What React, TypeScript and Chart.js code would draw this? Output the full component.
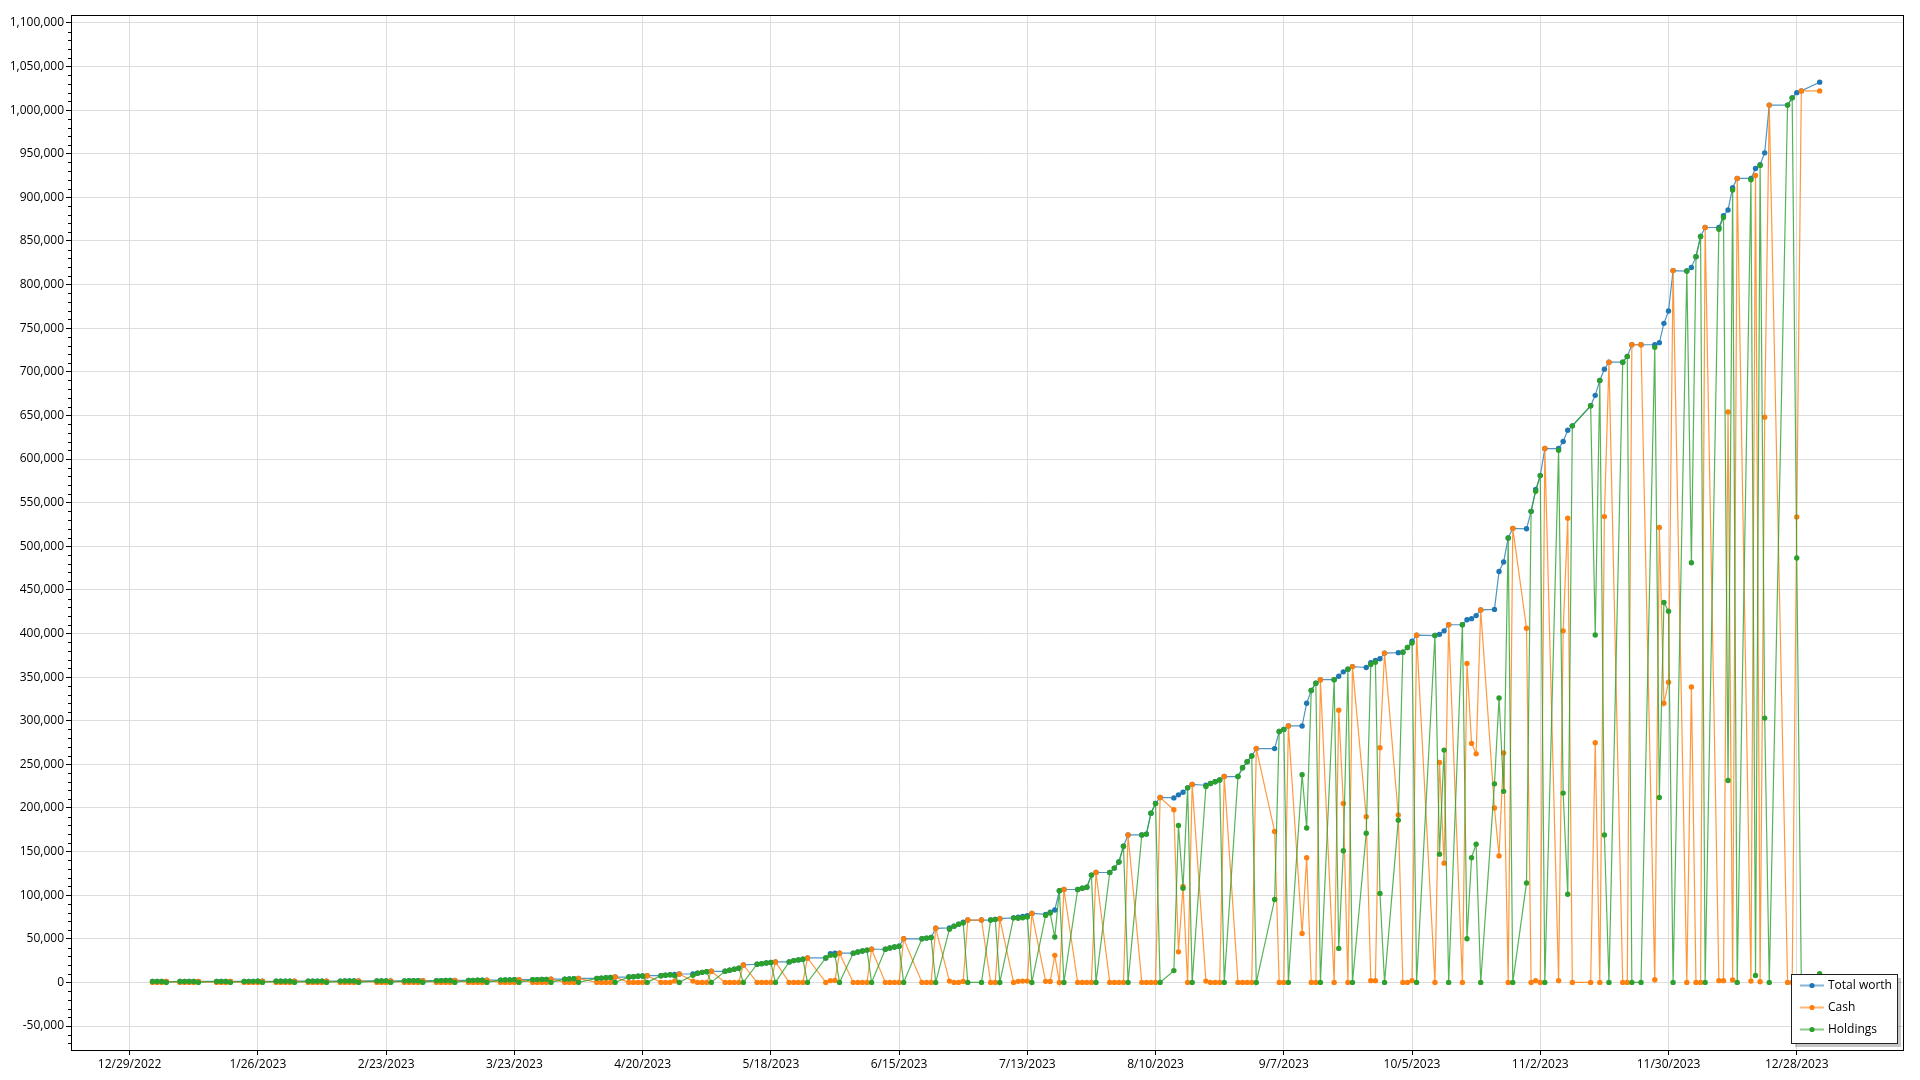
import React, { useEffect, useRef } from "react";
import { Chart, registerables } from "chart.js";

Chart.register(...registerables);

// ---------------- DATA ----------------
const dates: string[] = [
  "2023-01-03", "2023-01-04", "2023-01-05", "2023-01-06",
  "2023-01-09", "2023-01-10", "2023-01-11", "2023-01-12", "2023-01-13",
  "2023-01-17", "2023-01-18", "2023-01-19", "2023-01-20",
  "2023-01-23", "2023-01-24", "2023-01-25", "2023-01-26", "2023-01-27",
  "2023-01-30", "2023-01-31", "2023-02-01", "2023-02-02", "2023-02-03",
  "2023-02-06", "2023-02-07", "2023-02-08", "2023-02-09", "2023-02-10",
  "2023-02-13", "2023-02-14", "2023-02-15", "2023-02-16", "2023-02-17",
  "2023-02-21", "2023-02-22", "2023-02-23", "2023-02-24",
  "2023-02-27", "2023-02-28", "2023-03-01", "2023-03-02", "2023-03-03",
  "2023-03-06", "2023-03-07", "2023-03-08", "2023-03-09", "2023-03-10",
  "2023-03-13", "2023-03-14", "2023-03-15", "2023-03-16", "2023-03-17",
  "2023-03-20", "2023-03-21", "2023-03-22", "2023-03-23", "2023-03-24",
  "2023-03-27", "2023-03-28", "2023-03-29", "2023-03-30", "2023-03-31",
  "2023-04-03", "2023-04-04", "2023-04-05", "2023-04-06",
  "2023-04-10", "2023-04-11", "2023-04-12", "2023-04-13", "2023-04-14",
  "2023-04-17", "2023-04-18", "2023-04-19", "2023-04-20", "2023-04-21",
  "2023-04-24", "2023-04-25", "2023-04-26", "2023-04-27", "2023-04-28",
  "2023-05-01", "2023-05-02", "2023-05-03", "2023-05-04", "2023-05-05",
  "2023-05-08", "2023-05-09", "2023-05-10", "2023-05-11", "2023-05-12",
  "2023-05-15", "2023-05-16", "2023-05-17", "2023-05-18", "2023-05-19",
  "2023-05-22", "2023-05-23", "2023-05-24", "2023-05-25", "2023-05-26",
  "2023-05-30", "2023-05-31", "2023-06-01", "2023-06-02",
  "2023-06-05", "2023-06-06", "2023-06-07", "2023-06-08", "2023-06-09",
  "2023-06-12", "2023-06-13", "2023-06-14", "2023-06-15", "2023-06-16",
  "2023-06-20", "2023-06-21", "2023-06-22", "2023-06-23",
  "2023-06-26", "2023-06-27", "2023-06-28", "2023-06-29", "2023-06-30",
  "2023-07-03", "2023-07-05", "2023-07-06", "2023-07-07",
  "2023-07-10", "2023-07-11", "2023-07-12", "2023-07-13", "2023-07-14",
  "2023-07-17", "2023-07-18", "2023-07-19", "2023-07-20", "2023-07-21",
  "2023-07-24", "2023-07-25", "2023-07-26", "2023-07-27", "2023-07-28",
  "2023-07-31", "2023-08-01", "2023-08-02", "2023-08-03", "2023-08-04",
  "2023-08-07", "2023-08-08", "2023-08-09", "2023-08-10", "2023-08-11",
  "2023-08-14", "2023-08-15", "2023-08-16", "2023-08-17", "2023-08-18",
  "2023-08-21", "2023-08-22", "2023-08-23", "2023-08-24", "2023-08-25",
  "2023-08-28", "2023-08-29", "2023-08-30", "2023-08-31", "2023-09-01",
  "2023-09-05", "2023-09-06", "2023-09-07", "2023-09-08",
  "2023-09-11", "2023-09-12", "2023-09-13", "2023-09-14", "2023-09-15",
  "2023-09-18", "2023-09-19", "2023-09-20", "2023-09-21", "2023-09-22",
  "2023-09-25", "2023-09-26", "2023-09-27", "2023-09-28", "2023-09-29",
  "2023-10-02", "2023-10-03", "2023-10-04", "2023-10-05", "2023-10-06",
  "2023-10-10", "2023-10-11", "2023-10-12", "2023-10-13",
  "2023-10-16", "2023-10-17", "2023-10-18", "2023-10-19", "2023-10-20",
  "2023-10-23", "2023-10-24", "2023-10-25", "2023-10-26", "2023-10-27",
  "2023-10-30", "2023-10-31", "2023-11-01", "2023-11-02", "2023-11-03",
  "2023-11-06", "2023-11-07", "2023-11-08", "2023-11-09",
  "2023-11-13", "2023-11-14", "2023-11-15", "2023-11-16", "2023-11-17",
  "2023-11-20", "2023-11-21", "2023-11-22", "2023-11-24",
  "2023-11-27", "2023-11-28", "2023-11-29", "2023-11-30", "2023-12-01",
  "2023-12-04", "2023-12-05", "2023-12-06", "2023-12-07", "2023-12-08",
  "2023-12-11", "2023-12-12", "2023-12-13", "2023-12-14", "2023-12-15",
  "2023-12-18", "2023-12-19", "2023-12-20", "2023-12-21", "2023-12-22",
  "2023-12-26", "2023-12-27", "2023-12-28", "2023-12-29",
  "2024-01-02",
];

const totalWorth: number[] = [
  1000, 1010, 1020, 1040,
  1040, 1060, 1080, 1090, 1110,
  1110, 1130, 1150, 1170,
  1170, 1190, 1210, 1230, 1260,
  1260, 1280, 1310, 1340, 1370,
  1370, 1400, 1430, 1460, 1500,
  1500, 1540, 1580, 1620, 1660,
  1660, 1700, 1750, 1800,
  1800, 1850, 1900, 1960, 2020,
  2020, 2080, 2150, 2220, 2290,
  2290, 2370, 2450, 2540, 2630,
  2630, 2730, 2840, 2950, 3070,
  3070, 3200, 3340, 3490, 3650,
  3650, 3900, 4200, 4600,
  4600, 4950, 5300, 5700, 6100,
  6100, 6600, 7000, 7400, 7700,
  7700, 8200, 8700, 9200, 9600,
  9600, 10500, 11500, 12300, 12700,
  12700, 13900, 15000, 16300, 20000,
  20800, 21500, 22300, 22800, 23500,
  23500, 25000, 25800, 26500, 28000,
  28000, 33000, 33500, 33500,
  33500, 34800, 36000, 37000, 38000,
  38000, 39500, 40500, 41500, 50000,
  50000, 50800, 51500, 62000,
  62500, 64500, 66800, 69000, 71500,
  71500, 71500, 72300, 73000,
  74000, 74800, 75600, 76500, 79000,
  78000, 80500, 83000, 105000, 106500,
  106500, 108000, 109000, 123000, 126000,
  126000, 131000, 138000, 156000, 169000,
  169000, 170000, 194000, 205000, 212000,
  211500, 215000, 218000, 223000, 227000,
  226000, 228000, 230000, 232000, 236000,
  236000, 246000, 253000, 259600, 268000,
  268000, 287700, 290000, 294000,
  294000, 320000, 334600, 343000, 347000,
  347000, 351000, 356000, 359000, 362000,
  361000, 366500, 369000, 371000, 377500,
  378000, 378600, 384000, 391000, 398000,
  397600, 399000, 403000, 410000,
  410000, 415700, 417000, 420500, 427000,
  427600, 471000, 482000, 509500, 520500,
  520000, 540000, 565000, 581000, 612000,
  612000, 620000, 633000, 638000,
  661000, 673000, 690000, 703000, 711000,
  711000, 717600, 731000, 731000,
  731000, 733400, 755500, 769600, 816000,
  815500, 819600, 832000, 855000, 865400,
  865400, 879000, 885500, 911000, 921700,
  921700, 933000, 937400, 951000, 1005700,
  1005700, 1014000, 1020000, 1022000,
  1032000,
];

const cash: number[] = [
  0, 0, 0, 1040,
  0, 0, 0, 0, 1110,
  0, 0, 0, 1170,
  0, 0, 0, 0, 1260,
  0, 0, 0, 0, 1370,
  0, 0, 0, 0, 1500,
  0, 0, 0, 0, 1660,
  0, 0, 0, 1800,
  0, 0, 0, 0, 2020,
  0, 0, 0, 0, 2290,
  0, 0, 0, 0, 2630,
  0, 0, 0, 0, 3070,
  0, 0, 0, 0, 3650,
  0, 0, 0, 4600,
  0, 0, 0, 0, 6100,
  0, 0, 0, 0, 7700,
  0, 0, 0, 1500, 9600,
  1500, 0, 0, 0, 12700,
  0, 0, 0, 0, 20000,
  0, 0, 0, 0, 23500,
  0, 0, 0, 0, 28000,
  0, 2000, 2300, 33500,
  0, 0, 0, 0, 38000,
  0, 0, 0, 0, 50000,
  0, 0, 0, 62000,
  1500, 0, 0, 1000, 71500,
  71500, 0, 0, 73000,
  0, 1200, 1500, 1500, 79000,
  1200, 1000, 31000, 0, 106500,
  0, 0, 0, 0, 126000,
  0, 0, 0, 0, 169000,
  0, 0, 0, 0, 212000,
  198000, 35000, 110000, 0, 227000,
  1500, 0, 0, 0, 236000,
  0, 0, 0, 0, 268000,
  173000, 0, 0, 294000,
  56000, 143000, 0, 0, 347000,
  0, 312000, 205000, 0, 362000,
  190000, 2000, 2000, 269000, 377500,
  192000, 0, 0, 2000, 398000,
  0, 252000, 136700, 410000,
  0, 365700, 274000, 262000, 427000,
  200000, 145000, 263000, 0, 520500,
  406000, 0, 2000, 0, 612000,
  2000, 403000, 532000, 0,
  0, 274800, 0, 534000, 711000,
  0, 0, 731000, 731000,
  3000, 521400, 320000, 344000, 816000,
  0, 338600, 0, 0, 865400,
  2000, 2000, 654000, 2700, 921700,
  1500, 925000, 800, 648000, 1005700,
  0, 0, 533500, 1022000,
  1022000,
];

const holdings: number[] = [
  1000, 1010, 1020, 0,
  1040, 1060, 1080, 1090, 0,
  1110, 1130, 1150, 0,
  1170, 1190, 1210, 1230, 0,
  1260, 1280, 1310, 1340, 0,
  1370, 1400, 1430, 1460, 0,
  1500, 1540, 1580, 1620, 0,
  1660, 1700, 1750, 0,
  1800, 1850, 1900, 1960, 0,
  2020, 2080, 2150, 2220, 0,
  2290, 2370, 2450, 2540, 0,
  2630, 2730, 2840, 2950, 0,
  3070, 3200, 3340, 3490, 0,
  3650, 3900, 4200, 0,
  4600, 4950, 5300, 5700, 0,
  6100, 6600, 7000, 7400, 0,
  7700, 8200, 8700, 7700, 0,
  8100, 10500, 11500, 12300, 0,
  12700, 13900, 15000, 16300, 0,
  20800, 21500, 22300, 22800, 0,
  23500, 25000, 25800, 26500, 0,
  28000, 31000, 31200, 0,
  33500, 34800, 36000, 37000, 0,
  38000, 39500, 40500, 41500, 0,
  50000, 50800, 51500, 0,
  61000, 64500, 66800, 68000, 0,
  0, 71500, 72300, 0,
  74000, 73600, 74100, 75000, 0,
  76800, 79500, 52000, 105000, 0,
  106500, 108000, 109000, 123000, 0,
  126000, 131000, 138000, 156000, 0,
  169000, 170000, 194000, 205000, 0,
  13500, 180000, 108000, 223000, 0,
  224500, 228000, 230000, 232000, 0,
  236000, 246000, 253000, 259600, 0,
  95000, 287700, 290000, 0,
  238000, 177000, 334600, 343000, 0,
  347000, 39000, 151000, 359000, 0,
  171000, 364500, 367000, 102000, 0,
  186000, 378600, 384000, 389000, 0,
  397600, 147000, 266300, 0,
  410000, 50000, 143000, 158500, 0,
  227600, 326000, 219000, 509500, 0,
  114000, 540000, 563000, 581000, 0,
  610000, 217000, 101000, 638000,
  661000, 398200, 690000, 169000, 0,
  711000, 717600, 0, 0,
  728000, 212000, 435500, 425600, 0,
  815500, 481000, 832000, 855000, 0,
  863400, 877000, 231500, 908300, 0,
  920200, 8000, 936600, 303000, 0,
  1005700, 1014000, 486500, 0,
  10000,
];

const xTickLabels: string[] = [
  "12/29/2022", "1/26/2023", "2/23/2023", "3/23/2023", "4/20/2023",
  "5/18/2023", "6/15/2023", "7/13/2023", "8/10/2023", "9/7/2023",
  "10/5/2023", "11/2/2023", "11/30/2023", "12/28/2023",
];

const yTicks: number[] = [
  -50000, 0, 50000, 100000, 150000, 200000, 250000, 300000, 350000,
  400000, 450000, 500000, 550000, 600000, 650000, 700000, 750000,
  800000, 850000, 900000, 950000, 1000000, 1050000, 1100000,
];

const seriesNames: string[] = ["Total worth", "Cash", "Holdings"];

// ---------------- HELPERS ----------------
const ORIGIN = Date.UTC(2022, 11, 29);
const DAY = 86400000;
function isoToDay(s: string): number {
  const [y, m, d] = s.split("-").map(Number);
  return (Date.UTC(y, m - 1, d) - ORIGIN) / DAY;
}
function mdyToDay(s: string): number {
  const [m, d, y] = s.split("/").map(Number);
  return (Date.UTC(y, m - 1, d) - ORIGIN) / DAY;
}

const FONT = '"Segoe UI", "Open Sans", "Noto Sans", sans-serif';
const COLORS = {
  blue: "#1f77b4",
  orange: "#ff7f0e",
  green: "#2ca02c",
};
const LINE = {
  blue: "rgba(31,119,180,0.78)",
  orange: "rgba(255,127,14,0.8)",
  green: "rgba(44,160,44,0.8)",
};

const frameAndMinorTicks = {
  id: "frameAndMinorTicks",
  afterDraw(chart: any) {
    const { ctx, chartArea: a, scales } = chart;
    const ys = scales.y;
    ctx.save();
    ctx.strokeStyle = "#000";
    ctx.lineWidth = 1;
    ctx.strokeRect(
      Math.round(a.left) + 0.5,
      Math.round(a.top) + 0.5,
      Math.round(a.right - a.left),
      Math.round(a.bottom - a.top)
    );
    ctx.beginPath();
    for (let v = -70000; v <= 1100000; v += 10000) {
      if (v % 50000 === 0) continue;
      const py = Math.round(ys.getPixelForValue(v)) + 0.5;
      ctx.moveTo(Math.round(a.left) - 3, py);
      ctx.lineTo(Math.round(a.left), py);
    }
    ctx.stroke();
    ctx.restore();
  },
};

const boxLegend = {
  id: "boxLegend",
  afterDraw(chart: any) {
    const ctx = chart.ctx;
    const x = 1791;
    const y = 974;
    const w = 106;
    const h = 69;
    const cols = [COLORS.blue, COLORS.orange, COLORS.green];
    const lcols = [LINE.blue, LINE.orange, LINE.green];
    ctx.save();
    ctx.fillStyle = "rgba(0,0,0,0.22)";
    ctx.fillRect(x + 4, y + 4, w, h);
    ctx.fillStyle = "#fff";
    ctx.fillRect(x, y, w, h);
    ctx.strokeStyle = "#222";
    ctx.lineWidth = 1;
    ctx.strokeRect(x + 0.5, y + 0.5, w, h);
    ctx.font = `12px ${FONT}`;
    ctx.textBaseline = "middle";
    ctx.textAlign = "left";
    seriesNames.forEach((name, i) => {
      const cy = y + 11.5 + i * 22;
      ctx.strokeStyle = lcols[i];
      ctx.globalAlpha = 0.7;
      ctx.lineWidth = 2;
      ctx.beginPath();
      ctx.moveTo(x + 9, cy);
      ctx.lineTo(x + 33, cy);
      ctx.stroke();
      ctx.globalAlpha = 1;
      ctx.fillStyle = cols[i];
      ctx.beginPath();
      ctx.arc(x + 21, cy, 2.6, 0, Math.PI * 2);
      ctx.fill();
      ctx.fillStyle = "#000";
      ctx.fillText(name, x + 37, cy);
    });
    ctx.restore();
  },
};

export default function App() {
  const ref = useRef<HTMLCanvasElement | null>(null);

  useEffect(() => {
    document.body.style.margin = "0";
    const canvas = ref.current;
    if (!canvas) return;

    const xs = dates.map(isoToDay);
    const xTickValues = xTickLabels.map(mdyToDay);
    const labelFor = (v: number) => {
      const i = xTickValues.findIndex((t) => Math.abs(t - v) < 0.01);
      return i >= 0 ? xTickLabels[i] : "";
    };

    const mk = (
      label: string,
      vals: number[],
      c: string,
      lc: string,
      order: number
    ) => ({
      label,
      data: xs.map((x, i) => ({ x, y: vals[i] })),
      borderColor: lc,
      backgroundColor: c,
      pointBackgroundColor: c,
      pointBorderColor: c,
      pointBorderWidth: 0,
      pointRadius: 2.7,
      pointHoverRadius: 2.7,
      borderWidth: 1.2,
      tension: 0,
      fill: false,
      order,
    });

    const chart = new Chart(canvas, {
      type: "line",
      data: {
        datasets: [
          mk(seriesNames[0], totalWorth, COLORS.blue, LINE.blue, 3),
          mk(seriesNames[1], cash, COLORS.orange, LINE.orange, 2),
          mk(seriesNames[2], holdings, COLORS.green, LINE.green, 1),
        ] as any,
      },
      options: {
        responsive: false,
        animation: false,
        events: [],
        layout: { padding: { top: 15, right: 17, left: 0, bottom: 0 } },
        plugins: {
          legend: { display: false },
          tooltip: { enabled: false },
        },
        scales: {
          x: {
            type: "linear",
            min: -12.8,
            max: 387.2,
            afterBuildTicks: (s: any) => {
              s.ticks = xTickValues.map((v) => ({ value: v }));
            },
            afterFit: (s: any) => {
              s.height = 30;
            },
            ticks: {
              callback: (v: any) => labelFor(Number(v)),
              autoSkip: false,
              maxRotation: 0,
              minRotation: 0,
              padding: 2,
              color: "#000",
              font: { family: FONT, size: 12 },
            },
            grid: {
              color: "#dddddd",
              tickColor: "#000",
              tickLength: 5,
              lineWidth: 1,
            },
            border: { display: true, color: "#000", width: 1 },
          },
          y: {
            type: "linear",
            min: -77500,
            max: 1109000,
            afterBuildTicks: (s: any) => {
              s.ticks = yTicks.map((v) => ({ value: v }));
            },
            afterFit: (s: any) => {
              s.width = 71;
            },
            ticks: {
              callback: (v: any) => Number(v).toLocaleString("en-US"),
              padding: 2,
              color: "#000",
              font: { family: FONT, size: 12 },
            },
            grid: {
              color: "#dddddd",
              tickColor: "#000",
              tickLength: 5,
              lineWidth: 1,
            },
            border: { display: true, color: "#000", width: 1 },
          },
        },
      } as any,
      plugins: [frameAndMinorTicks, boxLegend],
    });

    return () => {
      chart.destroy();
    };
  }, []);

  return (
    <div style={{ width: 1920, height: 1080, background: "#fff" }}>
      <canvas
        ref={ref}
        width={1920}
        height={1080}
        style={{ width: 1920, height: 1080, display: "block" }}
      />
    </div>
  );
}
